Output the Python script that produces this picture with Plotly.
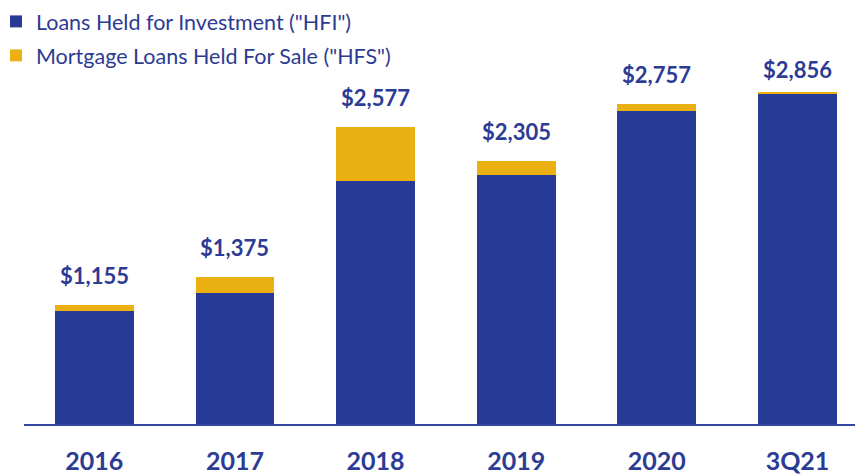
import plotly.graph_objects as go

categories = ["2016", "2017", "2018", "2019", "2020", "3Q21"]
hfi = [1106, 1244, 2139, 2193, 2699, 2835]
hfs = [49, 131, 438, 112, 58, 21]
totals = [1155, 1375, 2577, 2305, 2757, 2856]
total_labels = ["$1,155", "$1,375", "$2,577", "$2,305", "$2,757", "$2,856"]

BLUE = "#263A96"
GOLD = "#EBB012"
TEXT = "#2C3B93"
FONT = "Lato"

fig = go.Figure()
fig.add_trace(go.Bar(x=categories, y=hfi, name='Loans Held for Investment ("HFI")',
                     marker=dict(color=BLUE, line=dict(width=0)), width=0.56,
                     legendgroup="a"))
fig.add_trace(go.Bar(x=categories, y=hfs, name='Mortgage Loans Held For Sale ("HFS")',
                     marker=dict(color=GOLD, line=dict(width=0)), width=0.56,
                     legendgroup="b"))

# category index positions (numeric-looking category names would be read as indices)
shifts = [14, 14, 14, 14, 14, 7]
for i, (t, lab, s) in enumerate(zip(totals, total_labels, shifts)):
    fig.add_annotation(x=i, y=t, text=f"<b>{lab}</b>", showarrow=False,
                       yanchor="bottom", yshift=s,
                       font=dict(family=FONT, size=22, color=TEXT))

fig.update_layout(
    width=863, height=474,
    barmode="stack",
    plot_bgcolor="white", paper_bgcolor="white",
    margin=dict(l=16, r=8, t=0, b=58, autoexpand=False),
    showlegend=True,
    legend=dict(x=-0.0334, y=1.017, xref="paper", yref="paper",
                xanchor="left", yanchor="top",
                traceorder="grouped", tracegroupgap=3,
                font=dict(family=FONT, size=21.5, color=TEXT),
                bgcolor="rgba(0,0,0,0)"),
    xaxis=dict(type="category", range=[-0.5, 5.466], showline=True,
               linecolor="#3446A0", linewidth=2,
               ticks="outside", ticklen=14, tickcolor="rgba(0,0,0,0)",
               tickfont=dict(family=FONT, size=25, color=TEXT),
               tickprefix="<b>", ticksuffix="</b>", showgrid=False, zeroline=False),
    yaxis=dict(range=[200, 3525], visible=False, showgrid=False, zeroline=False),
)

fig.write_html("out.html")
